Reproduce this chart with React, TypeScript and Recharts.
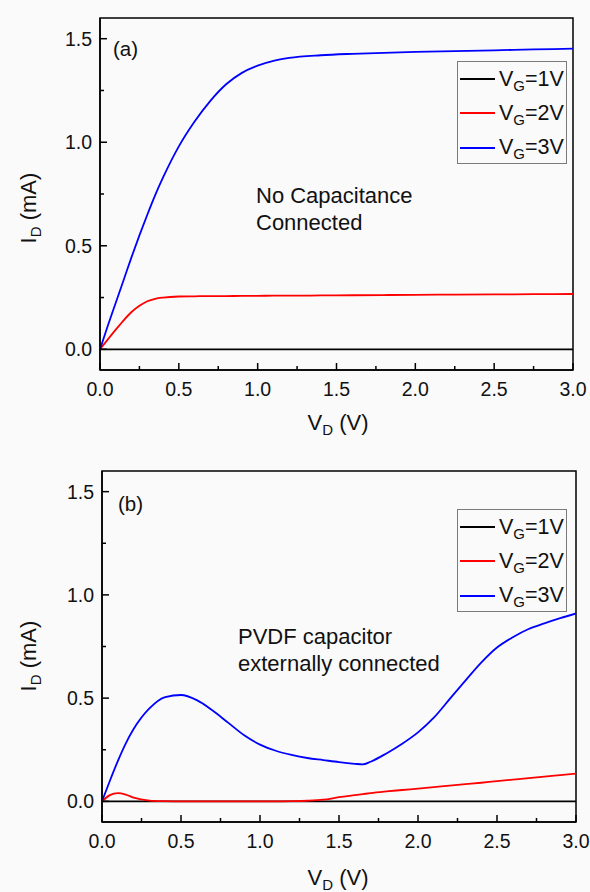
import React from 'react';
import { LineChart, Line, XAxis, YAxis, ReferenceArea, Legend } from 'recharts';

const FONT = '"Liberation Sans", Arial, Helvetica, sans-serif';

// ---------- Data ----------
const seriesNames = ['1V', '2V', '3V'];
const seriesColors = ['#000000', '#ff0000', '#0000ff'];

const xTicks = [0, 0.25, 0.5, 0.75, 1, 1.25, 1.5, 1.75, 2, 2.25, 2.5, 2.75, 3];
const yTicks = [0, 0.25, 0.5, 0.75, 1, 1.25, 1.5];

// Panel (a): no capacitance connected
const vdA = [0, 0.05, 0.1, 0.15, 0.2, 0.25, 0.3, 0.35, 0.4, 0.5, 0.6, 0.7, 0.8, 0.9, 1.0, 1.1, 1.2, 1.4, 1.6, 1.8, 2.0, 2.25, 2.5, 2.75, 3.0];
const vg1A = [0, 0, 0, 0, 0, 0, 0, 0, 0, 0, 0, 0, 0, 0, 0, 0, 0, 0, 0, 0, 0, 0, 0, 0, 0];
const vg2A = [0, 0.048, 0.095, 0.14, 0.18, 0.21, 0.232, 0.244, 0.25, 0.255, 0.256, 0.257, 0.257, 0.258, 0.258, 0.259, 0.259, 0.26, 0.261, 0.262, 0.263, 0.264, 0.265, 0.266, 0.267];
const vg3A = [0, 0.115, 0.225, 0.335, 0.445, 0.55, 0.65, 0.745, 0.83, 0.98, 1.1, 1.2, 1.28, 1.335, 1.37, 1.393, 1.407, 1.42, 1.427, 1.432, 1.436, 1.44, 1.444, 1.448, 1.452];

// Panel (b): PVDF capacitor externally connected
const vdB = [0, 0.05, 0.1, 0.15, 0.2, 0.3, 0.4, 0.5, 0.6, 0.7, 0.8, 0.9, 1.0, 1.1, 1.2, 1.3, 1.4, 1.5, 1.6, 1.65, 1.7, 1.8, 1.9, 2.0, 2.1, 2.2, 2.3, 2.4, 2.5, 2.6, 2.7, 2.8, 2.9, 3.0];
const vg1B = [0, 0, 0, 0, 0, 0, 0, 0, 0, 0, 0, 0, 0, 0, 0, 0, 0, 0, 0, 0, 0, 0, 0, 0, 0, 0, 0, 0, 0, 0, 0, 0, 0, 0];
const vg2B = [0, 0.03, 0.04, 0.033, 0.018, 0.004, 0.001, 0, 0, 0, 0, 0, 0, 0, 0.001, 0.003, 0.008, 0.02, 0.03, 0.035, 0.04, 0.048, 0.055, 0.062, 0.069, 0.076, 0.083, 0.09, 0.098, 0.105, 0.112, 0.12, 0.127, 0.134];
const vg3B = [0, 0.1, 0.195, 0.28, 0.35, 0.45, 0.505, 0.515, 0.49, 0.44, 0.38, 0.32, 0.275, 0.245, 0.225, 0.21, 0.2, 0.19, 0.182, 0.179, 0.192, 0.232, 0.279, 0.334, 0.405, 0.495, 0.585, 0.672, 0.745, 0.795, 0.835, 0.862, 0.887, 0.91];

const buildRows = (vd: number[], a: number[], b: number[], c: number[]) =>
  vd.map((v, i) => ({ vd: v, vg1: a[i], vg2: b[i], vg3: c[i] }));

const dataA = buildRows(vdA, vg1A, vg2A, vg3A);
const dataB = buildRows(vdB, vg1B, vg2B, vg3B);

// ---------- Ticks ----------
const isMajor = (v: number) => Math.abs(v * 2 - Math.round(v * 2)) < 1e-6;

const XTick = (p: any) => {
  const { x, y, payload } = p;
  const v = payload.value as number;
  const major = isMajor(v);
  return (
    <g>
      <line x1={x} x2={x} y1={y} y2={y - (major ? 7 : 4)} stroke="#000" strokeWidth={1.5} />
      {major && (
        <text x={x} y={y + 26} textAnchor="middle" fontSize={19.5} fontFamily={FONT} fill="#111">
          {v.toFixed(1)}
        </text>
      )}
    </g>
  );
};

const YTick = (p: any) => {
  const { x, y, payload } = p;
  const v = payload.value as number;
  const major = isMajor(v);
  return (
    <g>
      <line x1={x} x2={x + (major ? 7 : 4)} y1={y} y2={y} stroke="#000" strokeWidth={1.5} />
      {major && (
        <text x={x - 8} y={y + 7} textAnchor="end" fontSize={19.5} fontFamily={FONT} fill="#111">
          {v.toFixed(1)}
        </text>
      )}
    </g>
  );
};

const LegendBox = () => (
  <div
    style={{
      width: 110,
      height: 103,
      boxSizing: 'border-box',
      border: '1px solid #7a7a7a',
      background: '#fafafa',
      fontFamily: FONT,
      color: '#111',
    }}
  >
    {seriesNames.map((n, i) => (
      <div key={n} style={{ height: 34.3, display: 'flex', alignItems: 'center' }}>
        <div style={{ marginLeft: 2, width: 35, height: 2, background: seriesColors[i] }} />
        <div style={{ marginLeft: 4, fontSize: 21.5, lineHeight: '21px', whiteSpace: 'nowrap' }}>
          V<sub style={{ fontSize: 15, verticalAlign: -5, lineHeight: 0 }}>G</sub>={n}
        </div>
      </div>
    ))}
  </div>
);

type PanelProps = {
  data: any[];
  margin: { top: number; right: number; bottom: number; left: number };
  tag: string;
  tagX: number;
  tagY: number;
  note: string[];
  noteX: number;
  noteY: number;
  legendTop: number;
  yTitleY: number;
  xTitleY: number;
};

const Panel = ({ data, margin, tag, tagX, tagY, note, noteX, noteY, legendTop, yTitleY, xTitleY }: PanelProps) => (
  <LineChart width={590} height={446} data={data} margin={margin}>
    <XAxis
      dataKey="vd"
      type="number"
      domain={[0, 3]}
      ticks={xTicks}
      interval={0}
      tickSize={0}
      tickMargin={0}
      tickLine={false}
      tick={<XTick />}
      axisLine={{ stroke: '#000', strokeWidth: 1.5 }}
      height={40}
      allowDataOverflow
    />
    <YAxis
      type="number"
      domain={[-0.1, 1.6]}
      ticks={yTicks}
      interval={0}
      tickSize={0}
      tickMargin={0}
      tickLine={false}
      tick={<YTick />}
      axisLine={{ stroke: '#000', strokeWidth: 1.5 }}
      width={60}
      allowDataOverflow
    />
    <ReferenceArea x1={0} x2={3} y1={-0.1} y2={1.6} fill="none" fillOpacity={0} stroke="#000" strokeWidth={1.5} ifOverflow="visible" />
    <Line dataKey="vg1" name="VG=1V" stroke={seriesColors[0]} strokeWidth={1.8} dot={false} type="monotone" isAnimationActive={false} />
    <Line dataKey="vg2" name="VG=2V" stroke={seriesColors[1]} strokeWidth={1.8} dot={false} type="monotone" isAnimationActive={false} />
    <Line dataKey="vg3" name="VG=3V" stroke={seriesColors[2]} strokeWidth={1.8} dot={false} type="monotone" isAnimationActive={false} />
    <Legend
      layout="vertical"
      align="center"
      verticalAlign="middle"
      content={<LegendBox />}
      wrapperStyle={{ left: 457, top: legendTop, width: 110, height: 103 }}
    />
    <text x={tagX} y={tagY} fontSize={20.5} fontFamily={FONT} fill="#111">{tag}</text>
    {note.map((line, i) => (
      <text key={line} x={noteX} y={noteY + i * 26.5} fontSize={22} fontFamily={FONT} fill="#111">{line}</text>
    ))}
    <text
      x={36}
      y={yTitleY}
      transform={`rotate(-90, 36, ${yTitleY})`}
      textAnchor="middle"
      fontSize={22}
      fontFamily={FONT}
      fill="#111"
    >
      I<tspan fontSize={15} dy={5}>D</tspan>
      <tspan dy={-5}> (mA)</tspan>
    </text>
    <text x={338} y={xTitleY} textAnchor="middle" fontSize={22} fontFamily={FONT} fill="#111">
      V<tspan fontSize={15} dy={5}>D</tspan>
      <tspan dy={-5}> (V)</tspan>
    </text>
  </LineChart>
);

export default function App() {
  return (
    <div style={{ position: 'absolute', left: 0, top: 0, width: 590, height: 892, background: '#fafafa', overflow: 'hidden' }}>
      <div style={{ position: 'absolute', left: 0, top: 0 }}>
        <Panel
          data={dataA}
          margin={{ top: 18, right: 17, bottom: 36, left: 40 }}
          tag="(a)"
          tagX={113}
          tagY={56}
          note={['No Capacitance', 'Connected']}
          noteX={256}
          noteY={203}
          legendTop={61}
          yTitleY={208}
          xTitleY={430}
        />
      </div>
      <div style={{ position: 'absolute', left: 0, top: 446 }}>
        <Panel
          data={dataB}
          margin={{ top: 25, right: 14, bottom: 30, left: 42 }}
          tag="(b)"
          tagX={118}
          tagY={65}
          note={['PVDF capacitor', 'externally connected']}
          noteX={238}
          noteY={198}
          legendTop={63}
          yTitleY={210}
          xTitleY={439}
        />
      </div>
    </div>
  );
}
